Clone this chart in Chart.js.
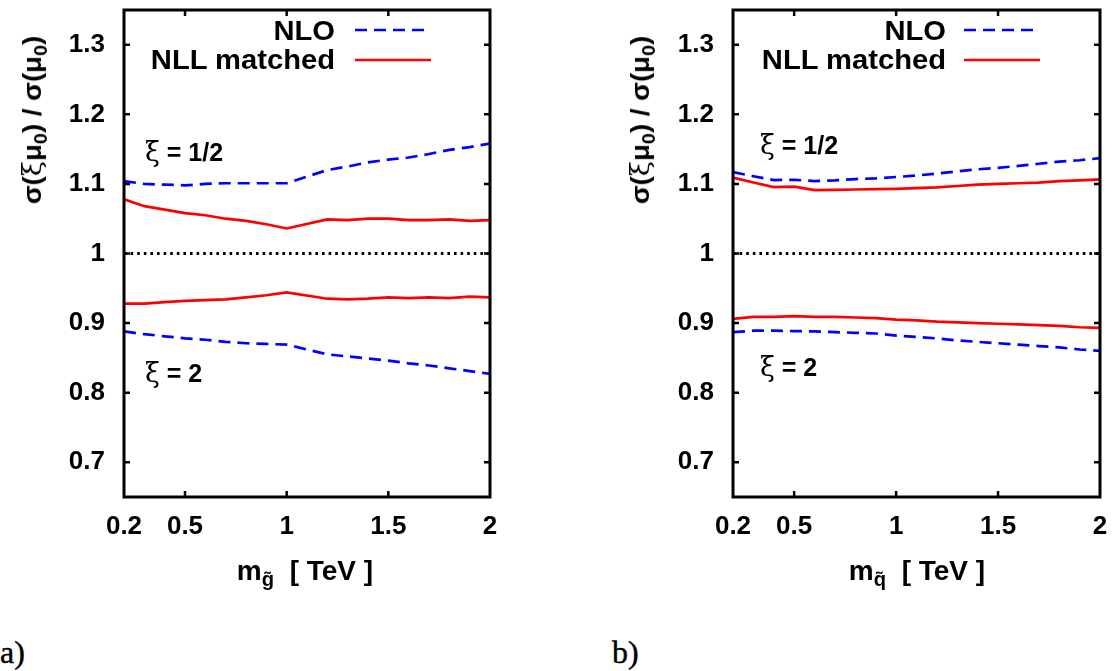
<!DOCTYPE html>
<html>
<head>
<meta charset="utf-8">
<script src="https://cdn.jsdelivr.net/npm/chart.js@4.4.1/dist/chart.umd.min.js"></script>
<style>
  html, body { margin:0; padding:0; background:#fff; }
  #wrap { position:relative; width:1120px; height:671px; overflow:hidden; background:#fff; }
  canvas { position:absolute; top:0; }
  .t { position:absolute; white-space:nowrap; font-family:"Liberation Sans", Arial, sans-serif; font-weight:bold; color:#000; line-height:1; }
  .s { font-size:0.72em; position:relative; top:0.32em; }
  .xi { font-family:"DejaVu Serif", "Liberation Serif", serif; font-weight:normal; }
  .lab { position:absolute; font-family:"Liberation Serif", "DejaVu Serif", serif; font-size:32px; line-height:1; color:#000; -webkit-text-stroke:0.4px #000; }
</style>
</head>
<body>
<div id="wrap">
  <canvas id="cA" width="560" height="560" style="left:0px"></canvas>
  <canvas id="cB" width="560" height="560" style="left:560px"></canvas>

  <!-- panel a texts -->
  <div class="t" style="left:32px; top:120px; font-size:26px; transform:translate(-50%,-50%) rotate(-90deg) scaleX(1.06);">σ(<span class="xi">ξ</span>μ<span class="s">0</span>) / σ(μ<span class="s">0</span>)</div>
  <div class="t" style="left:335px; top:31px; font-size:27px; transform:translate(-100%,-50%) scaleX(1.08); transform-origin:right center;">NLO</div>
  <div class="t" style="left:335px; top:60px; font-size:27px; transform:translate(-100%,-50%) scaleX(1.08); transform-origin:right center;">NLL matched</div>
  <div class="t" style="left:145px; top:151px; font-size:25px; transform:translateY(-50%);"><span class="xi" style="font-size:27px">ξ</span> = 1/2</div>
  <div class="t" style="left:145px; top:372px; font-size:25px; transform:translateY(-50%);"><span class="xi" style="font-size:27px">ξ</span> = 2</div>
  <div class="t" style="left:305px; top:571px; font-size:28px; transform:translate(-50%,-50%);">m<span class="s">g̃</span>&nbsp;&nbsp;[ TeV ]</div>
  <div class="lab" style="left:0px; top:636px;">a)</div>

  <!-- panel b texts -->
  <div class="t" style="left:640px; top:120px; font-size:26px; transform:translate(-50%,-50%) rotate(-90deg) scaleX(1.06);">σ(<span class="xi">ξ</span>μ<span class="s">0</span>) / σ(μ<span class="s">0</span>)</div>
  <div class="t" style="left:946px; top:31px; font-size:27px; transform:translate(-100%,-50%) scaleX(1.08); transform-origin:right center;">NLO</div>
  <div class="t" style="left:946px; top:60px; font-size:27px; transform:translate(-100%,-50%) scaleX(1.08); transform-origin:right center;">NLL matched</div>
  <div class="t" style="left:760px; top:144px; font-size:25px; transform:translateY(-50%);"><span class="xi" style="font-size:27px">ξ</span> = 1/2</div>
  <div class="t" style="left:760px; top:366px; font-size:25px; transform:translateY(-50%);"><span class="xi" style="font-size:27px">ξ</span> = 2</div>
  <div class="t" style="left:917px; top:571px; font-size:28px; transform:translate(-50%,-50%);">m<span class="s">q̃</span>&nbsp;&nbsp;[ TeV ]</div>
  <div class="lab" style="left:612px; top:636px;">b)</div>
</div>

<script>
// ---------------- data ----------------
// panel a) gluino mass [TeV]
const xA     = [0.2, 0.3, 0.4, 0.5, 0.6, 0.7, 0.8, 0.9, 1.0, 1.2, 1.3, 1.4, 1.5, 1.6, 1.7, 1.8, 1.9, 2.0];
const nloUpA = [1.104, 1.100, 1.099, 1.098, 1.100, 1.101, 1.101, 1.101, 1.101, 1.120, 1.125, 1.131, 1.135, 1.138, 1.143, 1.149, 1.153, 1.158];
const nloDnA = [0.888, 0.884, 0.881, 0.878, 0.876, 0.873, 0.871, 0.870, 0.869, 0.855, 0.852, 0.849, 0.846, 0.842, 0.839, 0.835, 0.831, 0.827];
const nllUpA = [1.078, 1.068, 1.063, 1.058, 1.055, 1.050, 1.047, 1.042, 1.036, 1.049, 1.048, 1.050, 1.050, 1.048, 1.048, 1.049, 1.047, 1.048];
const nllDnA = [0.928, 0.928, 0.930, 0.932, 0.933, 0.934, 0.937, 0.940, 0.944, 0.935, 0.934, 0.935, 0.937, 0.936, 0.937, 0.936, 0.938, 0.937];

// panel b) squark mass [TeV]
const xB     = [0.2, 0.3, 0.4, 0.5, 0.6, 0.7, 0.8, 0.9, 1.0, 1.1, 1.2, 1.3, 1.4, 1.5, 1.6, 1.7, 1.8, 1.9, 2.0];
const nloUpB = [1.117, 1.111, 1.1055, 1.106, 1.104, 1.105, 1.107, 1.108, 1.110, 1.112, 1.115, 1.118, 1.121, 1.123, 1.126, 1.129, 1.132, 1.134, 1.137];
const nloDnB = [0.887, 0.889, 0.889, 0.8885, 0.888, 0.887, 0.886, 0.885, 0.882, 0.880, 0.878, 0.875, 0.873, 0.871, 0.869, 0.867, 0.865, 0.862, 0.860];
const nllUpB = [1.109, 1.102, 1.0955, 1.096, 1.091, 1.0915, 1.092, 1.0925, 1.093, 1.094, 1.095, 1.097, 1.099, 1.100, 1.101, 1.102, 1.104, 1.105, 1.1065];
const nllDnB = [0.906, 0.909, 0.909, 0.910, 0.909, 0.909, 0.908, 0.907, 0.905, 0.904, 0.902, 0.901, 0.900, 0.899, 0.898, 0.897, 0.896, 0.894, 0.893];

// reference line sigma ratio = 1
const refX = [0.2, 2.0];
const refY = [1.0, 1.0];

// axis ticks
const xTicks = [0.2, 0.5, 1, 1.5, 2];
const yTicks = [0.7, 0.8, 0.9, 1, 1.1, 1.2, 1.3];
const xRange = [0.2, 2.0];
const yRange = [0.65, 1.35];

// ---------------- styling / drawing ----------------
const BLUE = '#0000ff', RED = '#ff0000';
const pts = (xs, ys) => xs.map((x, i) => ({ x: x, y: ys[i] }));

const framePlugin = {
  id: 'frame',
  afterDatasetsDraw(chart) {
    const { ctx, chartArea: a, scales } = chart;
    const xs = scales.x, ys = scales.y;
    ctx.save();
    // legend samples
    const lx0 = a.left + 231, lx1 = a.left + 307;
    ctx.lineWidth = 2.6;
    ctx.strokeStyle = BLUE; ctx.setLineDash([12, 7]);
    ctx.beginPath(); ctx.moveTo(lx0, a.top + 20); ctx.lineTo(lx1, a.top + 20); ctx.stroke();
    ctx.strokeStyle = RED; ctx.setLineDash([]);
    ctx.beginPath(); ctx.moveTo(lx0, a.top + 50); ctx.lineTo(lx1, a.top + 50); ctx.stroke();
    // frame
    ctx.strokeStyle = '#000'; ctx.lineWidth = 3; ctx.setLineDash([]);
    ctx.strokeRect(a.left, a.top, a.right - a.left, a.bottom - a.top);
    // inward ticks, mirrored
    ctx.lineWidth = 2.5;
    const L = 6;
    ctx.beginPath();
    yTicks.forEach(v => {
      const p = ys.getPixelForValue(v);
      ctx.moveTo(a.left, p); ctx.lineTo(a.left + L, p);
      ctx.moveTo(a.right, p); ctx.lineTo(a.right - L, p);
    });
    xTicks.forEach(v => {
      const p = xs.getPixelForValue(v);
      if (p <= a.left + 2 || p >= a.right - 2) return;
      ctx.moveTo(p, a.bottom); ctx.lineTo(p, a.bottom - L);
      ctx.moveTo(p, a.top); ctx.lineTo(p, a.top + L);
    });
    ctx.stroke();
    ctx.restore();
  }
};

function makeChart(id, xs, nloUp, nloDn, nllUp, nllDn, yAxisW, padRight) {
  const tickFont = { family: '"Liberation Sans", Arial, sans-serif', size: 26, weight: 'bold' };
  return new Chart(document.getElementById(id), {
    type: 'line',
    data: {
      datasets: [
        { data: pts(refX, refY), borderColor: '#000', borderWidth: 2.8, borderDash: [2.6, 4.0], pointRadius: 0, tension: 0 },
        { data: pts(xs, nloUp), borderColor: BLUE, borderWidth: 2.7, borderDash: [12, 7], pointRadius: 0, tension: 0 },
        { data: pts(xs, nloDn), borderColor: BLUE, borderWidth: 2.7, borderDash: [12, 7], pointRadius: 0, tension: 0 },
        { data: pts(xs, nllUp), borderColor: RED, borderWidth: 2.7, pointRadius: 0, tension: 0 },
        { data: pts(xs, nllDn), borderColor: RED, borderWidth: 2.7, pointRadius: 0, tension: 0 }
      ]
    },
    options: {
      responsive: false,
      maintainAspectRatio: false,
      devicePixelRatio: 1,
      animation: false,
      events: [],
      layout: { padding: { top: 10, right: padRight, bottom: 0, left: 0 } },
      plugins: { legend: { display: false }, tooltip: { enabled: false } },
      scales: {
        x: {
          type: 'linear', min: xRange[0], max: xRange[1],
          grid: { display: false, drawTicks: false }, border: { display: false },
          afterBuildTicks: s => { s.ticks = xTicks.map(v => ({ value: v })); },
          afterFit: s => { s.height = 63; s.paddingLeft = 0; s.paddingRight = 0; s.paddingTop = 0; s.paddingBottom = 0; },
          ticks: { color: '#000', font: tickFont, padding: 14, maxRotation: 0, autoSkip: false,
                   callback: v => String(v) }
        },
        y: {
          type: 'linear', min: yRange[0], max: yRange[1],
          grid: { display: false, drawTicks: false }, border: { display: false },
          afterBuildTicks: s => { s.ticks = yTicks.map(v => ({ value: v })); },
          afterFit: s => { s.width = yAxisW; s.paddingTop = 0; s.paddingBottom = 0; s.paddingLeft = 0; s.paddingRight = 0; },
          ticks: { color: '#000', font: tickFont, padding: 19, autoSkip: false,
                   callback: v => String(v) }
        }
      }
    },
    plugins: [framePlugin]
  });
}

makeChart('cA', xA, nloUpA, nloDnA, nllUpA, nllDnA, 124, 70);
makeChart('cB', xB, nloUpB, nloDnB, nllUpB, nllDnB, 173, 20);
</script>
</body>
</html>
